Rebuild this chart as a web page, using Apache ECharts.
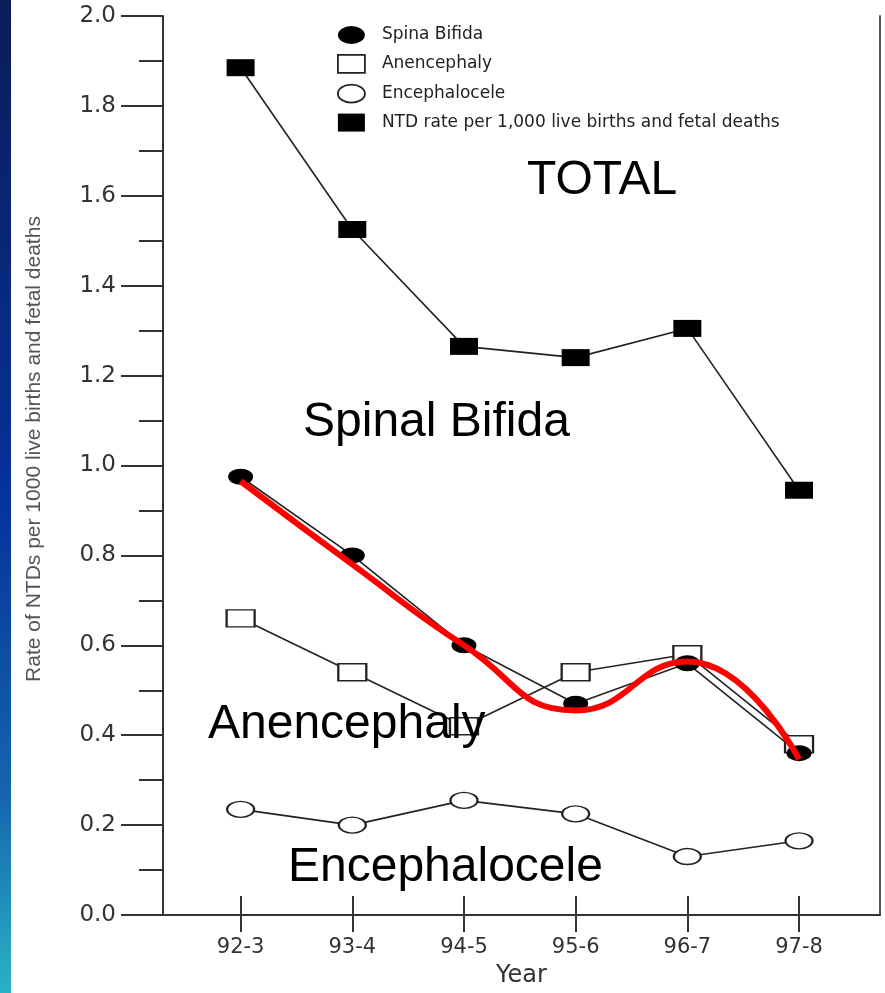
<!DOCTYPE html>
<html>
<head>
<meta charset="utf-8">
<script src="https://cdn.jsdelivr.net/npm/echarts@6/dist/echarts.min.js"></script>
<style>
html,body{margin:0;padding:0;background:#fff;}
#c{width:885px;height:993px;}
</style>
</head>
<body>
<div id="c"></div>
<script>
// ---- data ----
const categories = ['92-3', '93-4', '94-5', '95-6', '96-7', '97-8'];
const spinaBifida = [0.975, 0.80, 0.60, 0.47, 0.56, 0.36];
const anencephaly = [0.66, 0.54, 0.42, 0.54, 0.58, 0.38];
const encephalocele = [0.235, 0.20, 0.255, 0.225, 0.13, 0.165];
const ntdTotal = [1.885, 1.525, 1.265, 1.24, 1.305, 0.945];
const spinaTrend = [0.965, 0.78, 0.60, 0.455, 0.564, 0.346];
const seriesNames = ['Spina Bifida', 'Anencephaly', 'Encephalocele', 'NTD rate per 1,000 live births and fetal deaths'];
const annotations = ['TOTAL', 'Spinal Bifida', 'Anencephaly', 'Encephalocele'];
const yTitle = 'Rate of NTDs per 1000 live births and fetal deaths';
const xTitle = 'Year';

// ---- chart ----
const ELLIPSE = 'path://M0,10A10,10 0 1,1 20,10A10,10 0 1,1 0,10Z';
const ink = '#222';
const axisInk = '#333';
const idx = categories.map((c, i) => i);
const pts = arr => arr.map((v, i) => [i, v]);

const chart = echarts.init(document.getElementById('c'), null, {renderer: 'canvas'});

const lineBase = {
  type: 'line',
  xAxisIndex: 0,
  yAxisIndex: 0,
  lineStyle: {color: ink, width: 1.6},
  emphasis: {disabled: true},
  z: 3
};

const option = {
  animation: false,
  backgroundColor: '#ffffff',
  grid: {left: 163, right: 5, top: 16, bottom: 71, containLabel: false},
  xAxis: [
    {
      type: 'value', min: -0.695, max: 5.725, position: 'bottom',
      name: xTitle, nameLocation: 'middle', nameGap: 49,
      nameTextStyle: {fontFamily: 'DejaVu Sans', fontSize: 24, color: '#333'},
      axisLine: {show: true, onZero: false, lineStyle: {color: axisInk, width: 2}},
      axisTick: {show: true, customValues: idx, length: 17, lineStyle: {color: axisInk, width: 2}},
      axisLabel: {
        customValues: idx, formatter: v => categories[Math.round(v)] || '',
        margin: 22, fontFamily: 'DejaVu Sans', fontSize: 21, color: '#333'
      },
      splitLine: {show: false}
    },
    {
      type: 'value', min: -0.695, max: 5.725, position: 'bottom', offset: 0,
      axisLine: {show: false, onZero: false},
      axisTick: {show: true, inside: true, customValues: idx, length: 19, lineStyle: {color: axisInk, width: 2}},
      axisLabel: {show: false},
      splitLine: {show: false}
    }
  ],
  yAxis: [
    {
      type: 'value', min: 0, max: 2, interval: 0.2,
      axisLine: {show: true, onZero: false, lineStyle: {color: axisInk, width: 2}},
      axisTick: {show: true, length: 42, lineStyle: {color: axisInk, width: 2}},
      minorTick: {show: true, splitNumber: 2, length: 24, lineStyle: {color: axisInk, width: 2}},
      axisLabel: {
        formatter: v => v.toFixed(1), margin: 47,
        fontFamily: 'DejaVu Sans', fontSize: 23, color: '#333'
      },
      splitLine: {show: false},
      minorSplitLine: {show: false}
    },
    {
      type: 'value', min: 0, max: 2, position: 'right',
      axisLine: {show: true, onZero: false, lineStyle: {color: '#555', width: 2}},
      axisTick: {show: false},
      axisLabel: {show: false},
      splitLine: {show: false}
    }
  ],
  legend: {
    orient: 'vertical', left: 332, top: 21,
    itemWidth: 27, itemHeight: 18, itemGap: 10,
    symbolKeepAspect: false,
    selectedMode: false,
    textStyle: {fontFamily: 'DejaVu Sans', fontSize: 17, color: '#222', padding: [0, 0, 0, 12]},
    data: [
      {name: seriesNames[0], icon: ELLIPSE, itemStyle: {color: '#000', borderWidth: 0}},
      {name: seriesNames[1], icon: 'rect', itemStyle: {color: '#fff', borderColor: ink, borderWidth: 1.8}},
      {name: seriesNames[2], icon: ELLIPSE, itemStyle: {color: '#fff', borderColor: ink, borderWidth: 1.8}},
      {name: seriesNames[3], icon: 'rect', itemStyle: {color: '#000', borderWidth: 0}}
    ]
  },
  series: [
    Object.assign({}, lineBase, {
      name: seriesNames[2], data: pts(encephalocele),
      symbol: ELLIPSE, symbolSize: [27, 16],
      itemStyle: {color: '#fff', borderColor: ink, borderWidth: 1.8}
    }),
    Object.assign({}, lineBase, {
      name: seriesNames[1], data: pts(anencephaly),
      symbol: 'rect', symbolSize: [28, 17],
      itemStyle: {color: '#fff', borderColor: ink, borderWidth: 1.8}
    }),
    Object.assign({}, lineBase, {
      name: seriesNames[0], data: pts(spinaBifida),
      symbol: ELLIPSE, symbolSize: [25, 16],
      itemStyle: {color: '#000', borderWidth: 0}
    }),
    Object.assign({}, lineBase, {
      name: seriesNames[3], data: pts(ntdTotal),
      symbol: 'rect', symbolSize: [28, 17],
      itemStyle: {color: '#000', borderWidth: 0}
    }),
    {
      type: 'line', name: 'Spina Bifida trend', data: pts(spinaTrend),
      smooth: 0.5, symbol: 'none',
      lineStyle: {color: '#ff0000', width: 6},
      emphasis: {disabled: true},
      z: 6
    }
  ],
  graphic: [
    {
      type: 'rect', z: 10, silent: true,
      shape: {x: 0, y: 0, width: 11, height: 993},
      style: {
        fill: new echarts.graphic.LinearGradient(0, 0, 0, 1, [
          {offset: 0, color: '#0b1c58'},
          {offset: 0.5, color: '#06329a'},
          {offset: 0.8, color: '#1565ad'},
          {offset: 1, color: '#2ab2c6'}
        ])
      }
    },
    {
      type: 'text', x: 34, y: 449, rotation: Math.PI / 2, silent: true,
      style: {text: yTitle, font: '21px "Liberation Sans"', fill: '#555', align: 'center', verticalAlign: 'middle'}
    },
    {
      type: 'text', x: 527, y: 181, silent: true, z: 7,
      style: {text: annotations[0], font: '48px "Liberation Sans"', fill: '#000', align: 'left', verticalAlign: 'middle'}
    },
    {
      type: 'text', x: 303, y: 423, silent: true, z: 7,
      style: {text: annotations[1], font: '48px "Liberation Sans"', fill: '#000', align: 'left', verticalAlign: 'middle'}
    },
    {
      type: 'text', x: 208, y: 725, silent: true, z: 7,
      style: {text: annotations[2], font: '48px "Liberation Sans"', fill: '#000', align: 'left', verticalAlign: 'middle'}
    },
    {
      type: 'text', x: 288, y: 868, silent: true, z: 7,
      style: {text: annotations[3], font: '48px "Liberation Sans"', fill: '#000', align: 'left', verticalAlign: 'middle'}
    }
  ]
};

chart.setOption(option);
</script>
</body>
</html>
